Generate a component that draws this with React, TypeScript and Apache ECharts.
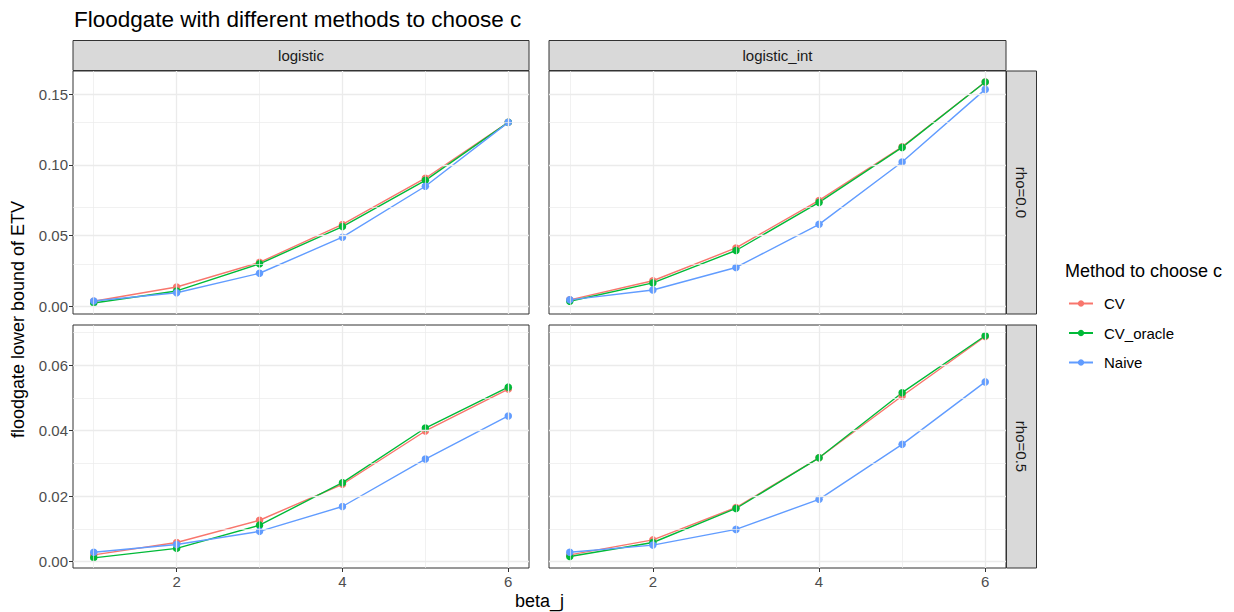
import React, { useEffect, useRef } from "react";
import * as echarts from "echarts";

const betaJ = [1, 2, 3, 4, 5, 6];
const methods = ["CV", "CV_oracle", "Naive"];
const methodColors = ["#F8766D", "#00BA38", "#619CFF"];
const models = ["logistic", "logistic_int"];
const rhos = ["rho=0.0", "rho=0.5"];

// logistic, rho=0.0
const cvLog0 = [0.0035, 0.0136, 0.031, 0.0578, 0.0905, 0.13];
const orLog0 = [0.0023, 0.0108, 0.03, 0.0563, 0.089, 0.13];
const nvLog0 = [0.0037, 0.0095, 0.0233, 0.0488, 0.0848, 0.13];
// logistic_int, rho=0.0
const cvInt0 = [0.0045, 0.018, 0.0412, 0.0748, 0.1127, 0.1585];
const orInt0 = [0.0035, 0.0165, 0.0394, 0.0734, 0.1123, 0.1585];
const nvInt0 = [0.0045, 0.0115, 0.0274, 0.0579, 0.102, 0.1533];
// logistic, rho=0.5
const cvLog5 = [0.002, 0.0058, 0.0126, 0.0236, 0.0399, 0.0527];
const orLog5 = [0.0011, 0.004, 0.0111, 0.0241, 0.0408, 0.0533];
const nvLog5 = [0.0028, 0.0052, 0.0092, 0.0168, 0.0313, 0.0445];
// logistic_int, rho=0.5
const cvInt5 = [0.002, 0.0066, 0.0165, 0.0317, 0.0506, 0.0688];
const orInt5 = [0.0015, 0.0058, 0.0162, 0.0317, 0.0516, 0.069];
const nvInt5 = [0.0028, 0.005, 0.0098, 0.019, 0.0358, 0.0549];

const xMajor = [2, 4, 6];
const xMinor = [1, 3, 5];
const yMajorRow = [
  [0, 0.05, 0.1, 0.15],
  [0, 0.02, 0.04, 0.06],
];
const yMinorRow = [
  [0.025, 0.075, 0.125],
  [0.01, 0.03, 0.05, 0.07],
];
const yRangeRow = [
  [-0.0055, 0.1663],
  [-0.002, 0.0723],
];
const xRange = [0.75, 6.25];

// panels: row-major [row][col]
const panelData = [
  [
    [cvLog0, orLog0, nvLog0],
    [cvInt0, orInt0, nvInt0],
  ],
  [
    [cvLog5, orLog5, nvLog5],
    [cvInt5, orInt5, nvInt5],
  ],
];

const FONT = "Liberation Sans, Arial, Helvetica, sans-serif";

export default function App() {
  const ref = useRef<HTMLDivElement>(null);
  useEffect(() => {
    document.body.style.margin = "0";
    const chart = echarts.init(ref.current!, null, { renderer: "svg" });

    const colLeft = [73, 549];
    const colWidth = [456, 457];
    const rowTop = [71, 325];
    const rowHeight = 243;
    const stripH = 30;
    const stripW = 30;

    const grids: any[] = [];
    const xAxes: any[] = [];
    const yAxes: any[] = [];
    const series: any[] = [];
    const graphics: any[] = [];

    let idx = 0;
    for (let r = 0; r < 2; r++) {
      for (let c = 0; c < 2; c++) {
        grids.push({
          left: colLeft[c],
          top: rowTop[r],
          width: colWidth[c],
          height: rowHeight,
          show: true,
          backgroundColor: "#FFFFFF",
          borderColor: "#333333",
          borderWidth: 1,
          containLabel: false,
        });
        const showX = r === 1;
        const showY = c === 0;
        xAxes.push({
          type: "value",
          gridIndex: idx,
          min: xRange[0],
          max: xRange[1],
          axisLine: { show: false, onZero: false },
          axisTick: {
            show: showX,
            customValues: xMajor,
            length: 4,
            lineStyle: { color: "#333333", width: 1 },
          },
          axisLabel: {
            show: showX,
            customValues: xMajor,
            color: "#4D4D4D",
            fontSize: 15,
            fontFamily: FONT,
            margin: 6,
          },
          splitLine: { show: false },
        });
        yAxes.push({
          type: "value",
          gridIndex: idx,
          min: yRangeRow[r][0],
          max: yRangeRow[r][1],
          axisLine: { show: false, onZero: false },
          axisTick: {
            show: showY,
            customValues: yMajorRow[r],
            length: 4,
            lineStyle: { color: "#333333", width: 1 },
          },
          axisLabel: {
            show: showY,
            customValues: yMajorRow[r],
            color: "#4D4D4D",
            fontSize: 15,
            fontFamily: FONT,
            margin: 5,
            formatter: (v: number) => v.toFixed(2),
          },
          splitLine: { show: false },
        });

        // grid lines
        const ml: any[] = [];
        xMinor.forEach((v) => ml.push({ xAxis: v, lineStyle: { width: 0.7 } }));
        xMajor.forEach((v) => ml.push({ xAxis: v, lineStyle: { width: 1.3 } }));
        yMinorRow[r].forEach((v) => ml.push({ yAxis: v, lineStyle: { width: 0.7 } }));
        yMajorRow[r].forEach((v) => ml.push({ yAxis: v, lineStyle: { width: 1.3 } }));
        series.push({
          type: "line",
          xAxisIndex: idx,
          yAxisIndex: idx,
          data: [],
          z: 1,
          silent: true,
          markLine: {
            silent: true,
            symbol: ["none", "none"],
            label: { show: false },
            emphasis: { disabled: true },
            lineStyle: { color: "#EBEBEB", type: "solid" },
            data: ml,
          },
        });

        methods.forEach((m, k) => {
          const vals = panelData[r][c][k];
          series.push({
            name: m,
            type: "line",
            xAxisIndex: idx,
            yAxisIndex: idx,
            data: betaJ.map((x, j) => [x, vals[j]]),
            symbol: "circle",
            symbolSize: 7.5,
            showSymbol: true,
            color: methodColors[k],
            lineStyle: { width: 1.4, color: methodColors[k] },
            itemStyle: { color: methodColors[k], borderWidth: 0 },
            z: 3,
            emphasis: { disabled: true },
          });
        });
        idx++;
      }
    }

    // top strips
    for (let c = 0; c < 2; c++) {
      graphics.push({
        type: "rect",
        shape: { x: colLeft[c], y: rowTop[0] - stripH - 0.5, width: colWidth[c], height: stripH },
        style: { fill: "#D9D9D9", stroke: "#333333", lineWidth: 1 },
        z: 10,
      });
      graphics.push({
        type: "text",
        x: colLeft[c] + colWidth[c] / 2,
        y: rowTop[0] - stripH / 2 - 0.5,
        style: {
          text: models[c],
          fill: "#1A1A1A",
          font: `15px ${FONT}`,
          textAlign: "center",
          textVerticalAlign: "middle",
        },
        z: 11,
      });
    }
    // right strips
    for (let r = 0; r < 2; r++) {
      const x0 = colLeft[1] + colWidth[1];
      graphics.push({
        type: "rect",
        shape: { x: x0 + 0.5, y: rowTop[r], width: stripW, height: rowHeight },
        style: { fill: "#D9D9D9", stroke: "#333333", lineWidth: 1 },
        z: 10,
      });
      graphics.push({
        type: "text",
        x: x0 + 0.5 + stripW / 2,
        y: rowTop[r] + rowHeight / 2,
        rotation: -Math.PI / 2,
        style: {
          text: rhos[r],
          fill: "#1A1A1A",
          font: `15px ${FONT}`,
          textAlign: "center",
          textVerticalAlign: "middle",
        },
        z: 11,
      });
    }
    // axis titles
    graphics.push({
      type: "text",
      x: 18,
      y: (rowTop[0] + rowTop[1] + rowHeight) / 2,
      rotation: Math.PI / 2,
      style: {
        text: "floodgate lower bound of ETV",
        fill: "#000000",
        font: `18px ${FONT}`,
        textAlign: "center",
        textVerticalAlign: "middle",
      },
    });
    graphics.push({
      type: "text",
      x: (colLeft[0] + colLeft[1] + colWidth[1]) / 2,
      y: 601,
      style: {
        text: "beta_j",
        fill: "#000000",
        font: `18px ${FONT}`,
        textAlign: "center",
        textVerticalAlign: "middle",
      },
    });
    // legend title
    graphics.push({
      type: "text",
      x: 1065,
      y: 271,
      style: {
        text: "Method to choose c",
        fill: "#000000",
        font: `18px ${FONT}`,
        textAlign: "left",
        textVerticalAlign: "middle",
      },
    });

    chart.setOption({
      animation: false,
      backgroundColor: "#FFFFFF",
      title: {
        text: "Floodgate with different methods to choose c",
        left: 69,
        top: 3,
        textStyle: { fontSize: 22.5, fontWeight: "normal", color: "#000000", fontFamily: FONT },
      },
      legend: {
        data: methods,
        orient: "vertical",
        left: 1063,
        top: 291,
        itemWidth: 24,
        itemHeight: 8,
        itemGap: 14.5,
        textStyle: { fontSize: 15, color: "#000000", fontFamily: FONT, padding: [0, 0, 0, 6] },
        selectedMode: false,
      },
      grid: grids,
      xAxis: xAxes,
      yAxis: yAxes,
      series,
      graphic: graphics,
    });
    return () => chart.dispose();
  }, []);
  return <div ref={ref} style={{ width: 1234, height: 612 }} />;
}
